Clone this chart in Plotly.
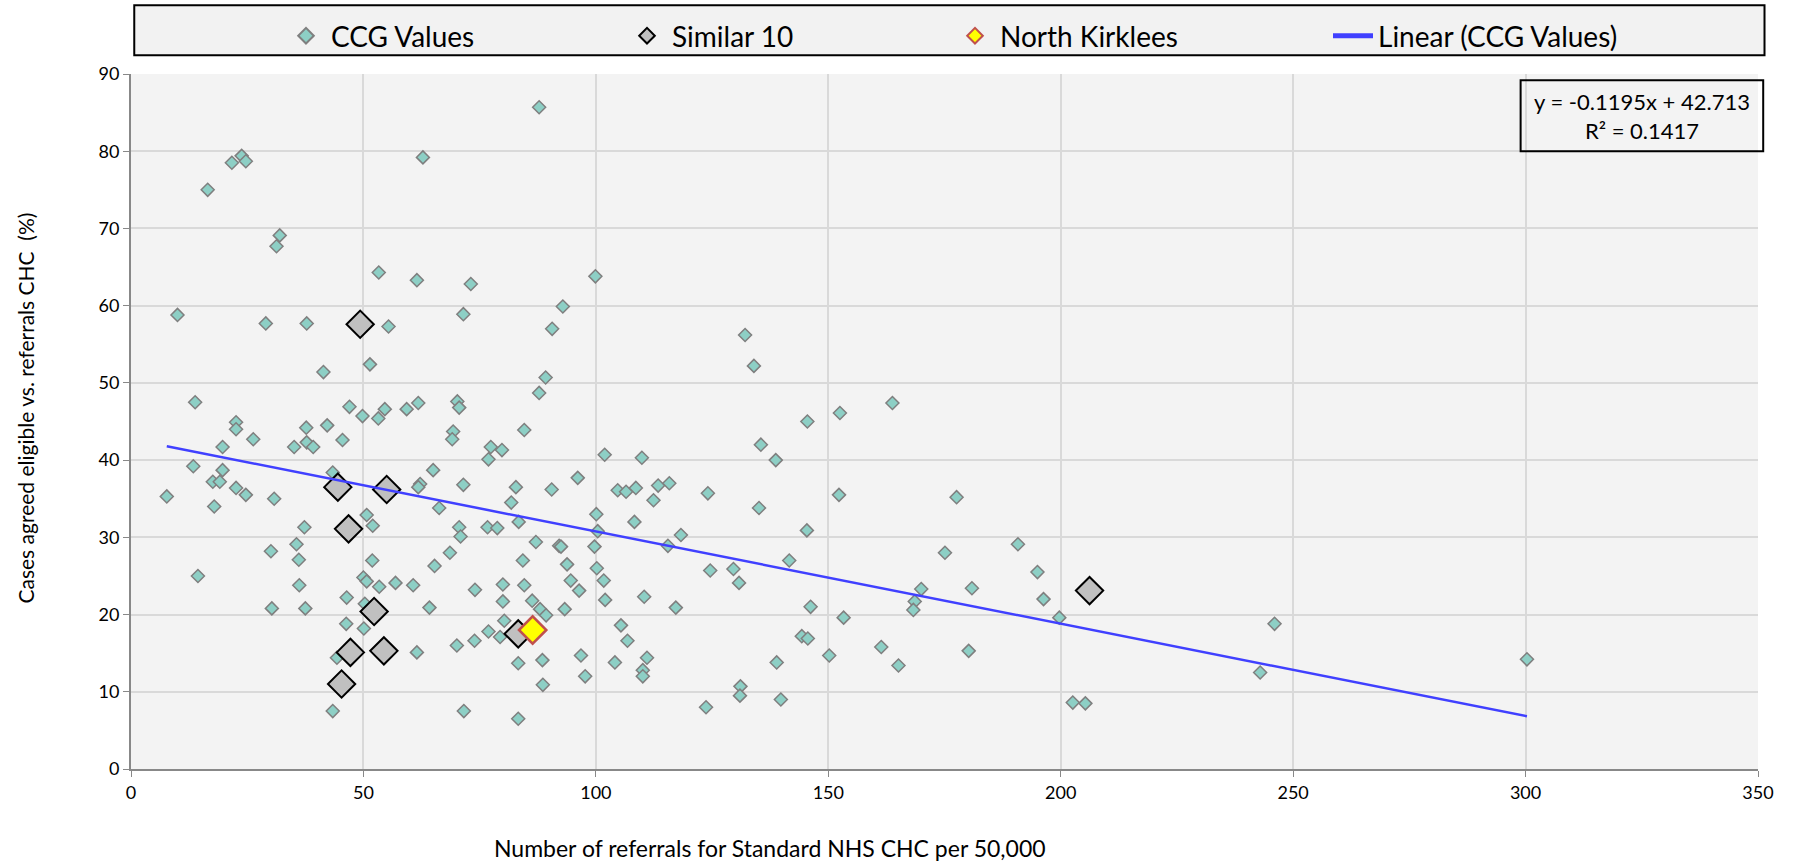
# CCG referrals vs eligibility scatter - rebuilt from the Excel chart
import plotly.graph_objects as go

# CCG values (x = referrals per 50,000, y = % agreed eligible)
ccg_x = [23.8, 21.7, 24.7, 16.5, 32.0, 31.3, 53.3, 61.5, 10.0, 29.0, 37.8, 55.4, 51.4, 41.4, 13.8,
         47.0, 49.8, 54.6, 53.2, 59.3, 61.8, 22.6, 22.6, 26.3, 37.7, 42.2, 45.5, 35.1, 37.8, 39.2,
         19.7, 13.4, 19.7, 17.6, 19.1, 22.6, 24.7, 7.7, 17.9, 30.8, 43.4, 62.2, 61.8, 50.7, 52.0,
         37.3, 35.6, 30.1, 36.1, 51.9, 14.4, 50.0, 50.7, 53.4, 56.9, 60.7, 36.2, 46.4, 30.3, 37.5,
         50.3, 46.3, 50.1, 44.3, 61.5, 43.4, 87.8, 62.8, 73.1, 99.9, 71.5, 92.9, 90.6, 89.2, 87.8,
         70.2, 70.6, 69.3, 69.1, 84.6, 77.4, 79.8, 76.9, 101.9, 109.9, 65.0, 71.5, 82.8, 90.5, 96.1,
         104.7, 106.5, 108.6, 113.4, 115.8, 112.4, 66.3, 81.8, 100.1, 108.3, 83.4, 70.6, 70.9, 76.7,
         78.8, 100.4, 118.3, 115.5, 87.1, 92.1, 92.5, 99.7, 68.6, 84.3, 65.3, 93.8, 100.2, 101.7,
         94.6, 96.4, 74.0, 80.0, 84.6, 102.0, 110.4, 117.2, 64.2, 80.0, 86.3, 88.0, 89.3, 93.3,
         80.3, 76.9, 79.4, 73.9, 70.1, 105.4, 106.8, 96.8, 88.5, 83.3, 104.1, 111.0, 110.1, 110.1,
         97.7, 88.6, 71.6, 83.3, 132.1, 134.0, 163.8, 152.5, 145.5, 135.5, 138.7, 124.1, 152.3,
         177.6, 135.1, 145.4, 141.6, 175.1, 124.6, 129.6, 130.8, 170.0, 180.9, 168.6, 168.3, 146.2,
         153.3, 144.3, 145.6, 161.4, 180.2, 150.2, 165.1, 138.9, 131.1, 131.0, 139.8, 123.7, 190.8,
         195.0, 196.3, 199.7, 202.6, 205.3, 246.0, 242.9, 300.3]
ccg_y = [79.4, 78.5, 78.7, 75.0, 69.1, 67.7, 64.3, 63.3, 58.8, 57.7, 57.7, 57.3, 52.4, 51.4, 47.5,
         46.9, 45.7, 46.6, 45.4, 46.6, 47.4, 44.9, 44.0, 42.7, 44.2, 44.5, 42.6, 41.7, 42.3, 41.7,
         41.7, 39.2, 38.7, 37.2, 37.2, 36.4, 35.5, 35.3, 34.0, 35.0, 38.4, 36.9, 36.5, 32.9, 31.5,
         31.3, 29.1, 28.2, 27.1, 27.0, 25.0, 24.8, 24.3, 23.6, 24.1, 23.8, 23.8, 22.2, 20.8, 20.8,
         21.4, 18.8, 18.2, 14.4, 15.1, 7.5, 85.7, 79.2, 62.8, 63.8, 58.9, 59.9, 57.0, 50.7, 48.7,
         47.6, 46.8, 43.7, 42.7, 43.9, 41.7, 41.3, 40.1, 40.7, 40.3, 38.7, 36.8, 36.5, 36.2, 37.7,
         36.1, 35.9, 36.4, 36.7, 37.0, 34.8, 33.8, 34.5, 33.0, 32.0, 32.0, 31.3, 30.1, 31.3,
         31.2, 30.8, 30.3, 28.9, 29.4, 28.9, 28.8, 28.8, 28.0, 27.0, 26.3, 26.5, 26.0, 24.4,
         24.4, 23.1, 23.2, 23.9, 23.8, 21.9, 22.3, 20.9, 20.9, 21.7, 21.8, 20.7, 19.9, 20.7,
         19.2, 17.8, 17.1, 16.6, 16.0, 18.6, 16.6, 14.7, 14.1, 13.7, 13.8, 14.4, 12.8, 12.0,
         12.0, 10.9, 7.5, 6.5, 56.2, 52.2, 47.4, 46.1, 45.0, 42.0, 40.0, 35.7, 35.5,
         35.2, 33.8, 30.9, 27.0, 28.0, 25.7, 25.9, 24.1, 23.3, 23.4, 21.7, 20.6, 21.0,
         19.6, 17.2, 16.9, 15.8, 15.3, 14.7, 13.4, 13.8, 10.7, 9.5, 9.0, 8.0, 29.1,
         25.5, 22.0, 19.6, 8.6, 8.5, 18.8, 12.5, 14.2]

# the 10 most similar CCGs
sim_x = [49.3, 44.5, 55.0, 46.8, 52.3, 47.2, 54.4, 45.3, 83.3, 206.2]
sim_y = [57.6, 36.5, 36.2, 31.1, 20.4, 15.1, 15.3, 11.0, 17.5, 23.1]

# North Kirklees
nk_x = [86.4]
nk_y = [18.0]

# Excel linear trendline, as printed on the chart
slope = -0.1195
intercept = 42.713
r2 = 0.1417

FONT = "Lato"
W, H = 1797, 863

fit_x = [min(ccg_x), max(ccg_x)]
fit_y = [slope * v + intercept for v in fit_x]

fig = go.Figure()
fig.add_trace(go.Scatter(
    x=ccg_x, y=ccg_y, mode="markers", name="CCG Values", legend="legend",
    marker=dict(symbol="diamond", size=10, color="#8dcfc5",
                line=dict(color="#7f7f7f", width=1.5))))
fig.add_trace(go.Scatter(
    x=sim_x, y=sim_y, mode="markers", name="Similar 10", legend="legend2",
    marker=dict(symbol="diamond", size=21, color="#c0c0c0",
                line=dict(color="black", width=2))))
fig.add_trace(go.Scatter(
    x=nk_x, y=nk_y, mode="markers", name="North Kirklees", legend="legend3",
    marker=dict(symbol="diamond", size=21, color="#ffff00",
                line=dict(color="#c0504d", width=2.5))))
fig.add_trace(go.Scatter(
    x=fit_x, y=fit_y, mode="lines", name="Linear (CCG Values)", legend="legend4",
    line=dict(color="#4040ff", width=2.5)))


# one legend per entry so each can sit where Excel put it
def leg(px_left):
    return dict(xref="container", yref="container", x=px_left / W, y=1 - 36 / H,
                xanchor="left", yanchor="middle", bgcolor="rgba(0,0,0,0)",
                font=dict(size=28), itemsizing="constant", itemwidth=40)


fig.update_layout(
    width=W, height=H,
    margin=dict(l=131, r=39, t=74, b=94, autoexpand=False),
    paper_bgcolor="white",
    plot_bgcolor="#f3f3f3",
    font=dict(family=FONT, size=18, color="black"),
    showlegend=True,
    legend=leg(281), legend2=leg(622), legend3=leg(950), legend4=leg(1328),
)

fig.update_xaxes(range=[0, 350], dtick=50, tick0=0, showgrid=True, gridcolor="#d9d9d9",
                 gridwidth=1.5, showline=True, linecolor="#888888", linewidth=2,
                 ticks="outside", ticklen=6, tickcolor="#888888", zeroline=False,
                 tickfont=dict(size=18), automargin=False)
fig.update_yaxes(range=[0, 90], dtick=10, tick0=0, showgrid=True, gridcolor="#d9d9d9",
                 gridwidth=1.5, showline=True, linecolor="#888888", linewidth=2,
                 ticks="outside", ticklen=6, tickcolor="#888888", zeroline=False,
                 tickfont=dict(size=18), automargin=False)

# axis titles as annotations (x title sits left of centre in the original)
fig.add_annotation(text="Number of referrals for Standard NHS CHC per 50,000",
                   xref="x", yref="paper", x=137.4, y=-0.113, showarrow=False,
                   xanchor="center", yanchor="middle", font=dict(size=23))
fig.add_annotation(text="Cases agreed eligible vs. referrals CHC  (%)",
                   xref="paper", yref="paper", x=-0.065, y=0.519, showarrow=False,
                   textangle=-90, xanchor="center", yanchor="middle", font=dict(size=21))

# legend frame spanning the width of the chart
fig.add_shape(type="rect", xref="paper", yref="paper", x0=0.002, x1=1.004, y0=1.027, y1=1.099,
              fillcolor="#f2f2f2", line=dict(color="black", width=2), layer="below")

# trendline equation box
fig.add_shape(type="rect", xref="paper", yref="paper", x0=0.8541, x1=1.0032, y0=0.8889, y1=0.991,
              fillcolor="rgba(0,0,0,0)", line=dict(color="black", width=2))
fig.add_annotation(text=f"y = {slope}x + {intercept}<br>R² = {r2}",
                   xref="paper", yref="paper", x=0.9287, y=0.94, showarrow=False,
                   xanchor="center", yanchor="middle", align="center", font=dict(size=22))

# drop the default 8px body margin so the figure fills the window exactly
fig.write_html("out.html", config={"displayModeBar": False},
               post_script="document.body.style.margin='0';")
